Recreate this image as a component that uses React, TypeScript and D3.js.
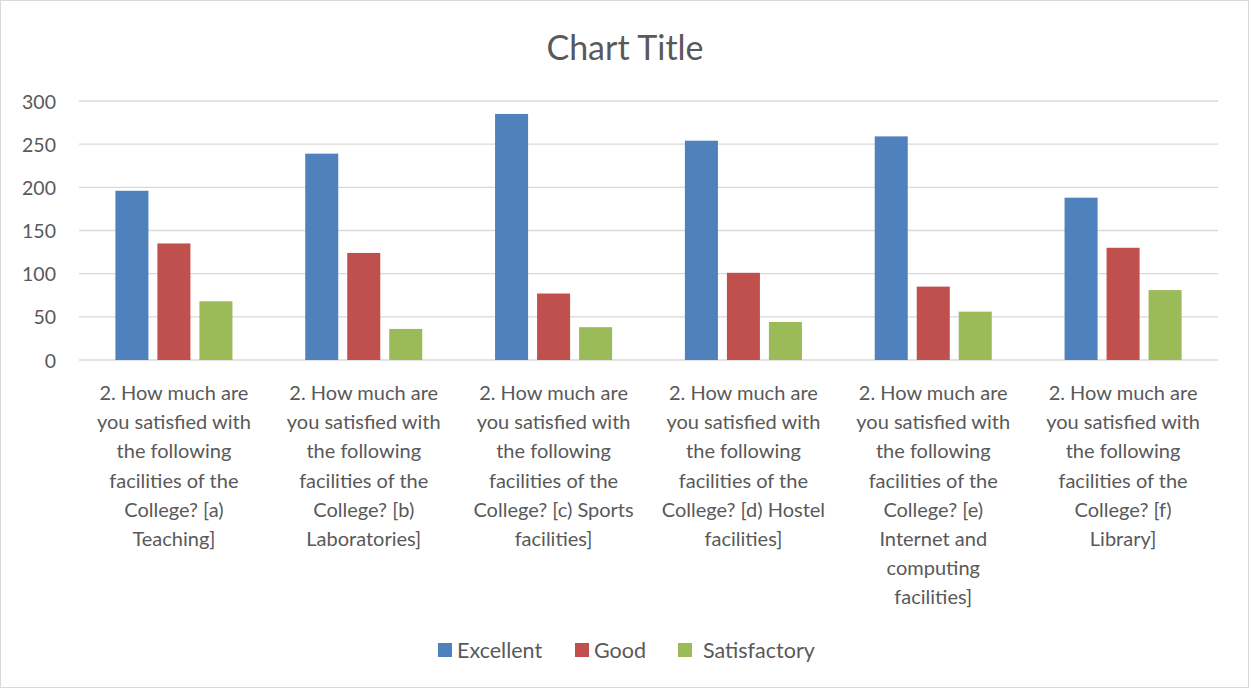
import React from "react";
import * as d3 from "d3";

const categories = [
  "2. How much are you satisfied with the following facilities of the College? [a) Teaching]",
  "2. How much are you satisfied with the following facilities of the College? [b) Laboratories]",
  "2. How much are you satisfied with the following facilities of the College? [c) Sports facilities]",
  "2. How much are you satisfied with the following facilities of the College? [d) Hostel facilities]",
  "2. How much are you satisfied with the following facilities of the College? [e) Internet and computing facilities]",
  "2. How much are you satisfied with the following facilities of the College? [f) Library]",
];
const seriesNames = ["Excellent", "Good", "Satisfactory"];
const excellent = [196, 239, 285, 254, 259, 188];
const good = [135, 124, 77, 101, 85, 130];
const satisfactory = [68, 36, 38, 44, 56, 81];
const yTicks = [0, 50, 100, 150, 200, 250, 300];
const colors = ["#4F81BD", "#C0504D", "#9BBB59"];

const W = 1251;
const H = 689;
const FONT = "Lato, 'Open Sans', sans-serif";
const TXT = "#595959";

function wrap(text: string, maxW: number, font: string): string[] {
  const canvas = document.createElement("canvas");
  const ctx = canvas.getContext("2d")!;
  ctx.font = font;
  const words = text.split(" ");
  const lines: string[] = [];
  let cur = "";
  for (const w of words) {
    const t = cur ? cur + " " + w : w;
    if (ctx.measureText(t).width > maxW && cur) {
      lines.push(cur);
      cur = w;
    } else cur = t;
  }
  if (cur) lines.push(cur);
  return lines;
}

export default function App() {
  const left = 79, right = 1218, top = 101, bottom = 360;
  const x = d3.scaleBand<number>().domain(d3.range(categories.length)).range([left, right]).paddingInner(0).paddingOuter(0);
  const y = d3.scaleLinear().domain([0, 300]).range([bottom, top]);
  const data = [excellent, good, satisfactory];
  const bw = x.bandwidth();
  const barW = bw * 0.174;
  const step = bw * 0.2213;
  const labelFont = `20px Lato`;
  return (
    <div style={{ position: "absolute", left: 0, top: 0 }}>
      <svg width={W} height={H} style={{ display: "block", fontFamily: FONT }}>
        <rect x={0.5} y={0.5} width={W - 3} height={H - 2} fill="#fff" stroke="#d9d9d9" strokeWidth={1} />
        <text x={625} y={46} textAnchor="middle" dominantBaseline="central" fontSize={34} fill={TXT}>Chart Title</text>
        {yTicks.map((t) => (
          <g key={t}>
            <line x1={left} x2={right} y1={y(t)} y2={y(t)} stroke="#d9d9d9" strokeWidth={1.3} />
            <text x={56} y={y(t)} textAnchor="end" dominantBaseline="central" fontSize={19.5} fill={TXT}>{t}</text>
          </g>
        ))}
        {categories.map((c, i) => {
          const cx = x(i)! + bw / 2;
          return (
            <g key={i}>
              {data.map((s, j) => (
                <rect key={j} x={cx + (j - 1) * step - barW / 2} y={y(s[i])} width={barW} height={bottom - y(s[i])} fill={colors[j]} />
              ))}
              {wrap(c, 164, labelFont).map((ln, k) => (
                <text key={k} x={cx} y={392 + k * 29.2} textAnchor="middle" dominantBaseline="central" fontSize={20} fill={TXT}>{ln}</text>
              ))}
            </g>
          );
        })}
        {seriesNames.map((n, j) => {
          const lx = [438, 575, 678][j];
          return (
            <g key={n}>
              <rect x={lx} y={643} width={14} height={14} fill={colors[j]} />
              <text x={lx + (j === 2 ? 25 : 19)} y={650} dominantBaseline="central" fontSize={21.5} fill={TXT}>{n}</text>
            </g>
          );
        })}
      </svg>
    </div>
  );
}
